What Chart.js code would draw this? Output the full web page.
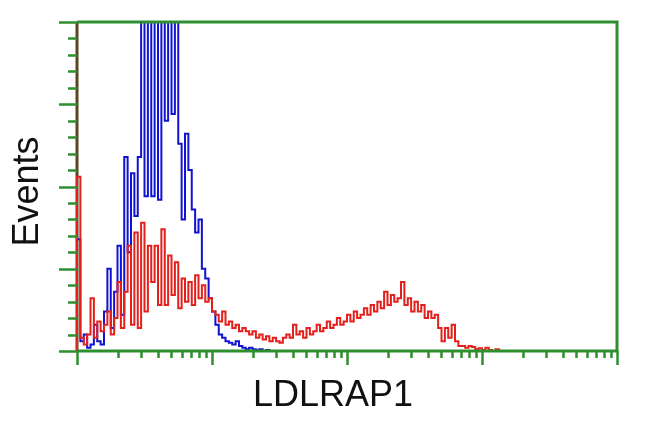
<!DOCTYPE html>
<html>
<head>
<meta charset="utf-8">
<script src="https://cdn.jsdelivr.net/npm/chart.js@4.4.1/dist/chart.umd.min.js"></script>
<style>
html,body{margin:0;padding:0;background:#ffffff;}
#wrap{width:650px;height:432px;}
</style>
</head>
<body>
<div id="wrap"><canvas id="c" width="650" height="432"></canvas></div>
<script>
// Log-amplified channels: 40 channels per decade, 4 decades (0..160)
const xTitle = "LDLRAP1";
const yTitle = "Events";
const yMajorTicks = [0, 25, 50, 75, 100];
const yMinorStep = 5;
const xDecadeTicks = [0, 40, 80, 120, 160];

// Isotype / control (blue)
const blueCounts = [
  0, 34, 3, 5, 1, 2, 8, 3, 2, 12,
  25, 7, 18, 32, 11, 59, 30, 54, 41, 59,
  105, 47, 110, 47, 110, 46, 110, 70, 110, 72,
  110, 63, 40, 66, 55, 43, 36, 40, 25, 22,
  16, 12, 8, 5, 4, 3, 2.5, 2, 3, 1.5,
  1, 0.5, 1, 0.5, 0.3, 0.5, 0, 0.3, 0
];

// LDLRAP1 stained (red)
const redCounts = [
  0, 53, 4, 2, 5, 16, 4, 9, 6, 8,
  12, 5, 10, 21, 7, 18, 32, 8, 36, 7,
  39, 12, 32, 21, 32, 14, 37, 14, 29, 17,
  27, 13, 22, 15, 21, 14, 23, 16, 20, 15,
  16, 12, 11, 9, 12, 8, 9, 7, 8, 6,
  7, 6, 5, 6, 4, 5, 3.5, 4.5, 3, 4,
  3, 2.5, 4, 5, 4, 8, 5, 6, 4, 7,
  5, 6, 8, 6, 7, 9, 7, 8, 10, 8,
  9, 11, 9, 12, 10, 11, 13, 11, 14, 12,
  15, 13, 18, 14, 17, 15, 16, 21, 14, 16,
  12, 15, 12, 14, 10, 12, 10, 11, 7, 3,
  7, 4, 8, 3, 1.5, 1.5, 1, 1.5, 1.2, 0.5,
  0.8, 0.3, 1, 0.3, 0, 0.5, 0
];

const channels = redCounts.map((_, i) => i);

const GREEN = '#2f8f2f';
const AXIS_LEFT = '#5a4524';
const BLUE = '#1212d2';
const RED = '#e3201c';
const FONT = 'Liberation Sans, Arial, Helvetica, sans-serif';

const frameTicks = {
  id: 'frameTicks',
  afterLayout(chart) {
    const sx = chart.scales.x, sy = chart.scales.y;
    if (!sx.__shifted) {
      const o = sx.drawTitle;
      sx.drawTitle = function () { this.ctx.save(); this.ctx.translate(-14, 0); o.call(this); this.ctx.restore(); };
      sx.__shifted = true;
    }
    if (!sy.__shifted) {
      const o2 = sy.drawTitle;
      sy.drawTitle = function () { this.ctx.save(); this.ctx.translate(1, 5); o2.call(this); this.ctx.restore(); };
      sy.__shifted = true;
    }
  },
  beforeDatasetsDraw(chart) {
    const {ctx, chartArea: a} = chart;
    ctx.save();
    ctx.strokeStyle = AXIS_LEFT;
    ctx.lineWidth = 3;
    ctx.beginPath();
    ctx.moveTo(a.left, a.top);
    ctx.lineTo(a.left, a.bottom);
    ctx.stroke();
    ctx.restore();
  },
  afterDatasetsDraw(chart) {
    const {ctx, chartArea: a, scales: {x, y}} = chart;
    ctx.save();
    ctx.strokeStyle = GREEN;
    ctx.lineWidth = 3;
    ctx.beginPath();
    ctx.moveTo(a.left, a.top);
    ctx.lineTo(a.right, a.top);
    ctx.lineTo(a.right, a.bottom);
    ctx.lineTo(a.left, a.bottom);
    ctx.stroke();
    // y ticks
    ctx.lineWidth = 2.5;
    const yMax = yMajorTicks[yMajorTicks.length - 1];
    for (let v = 0; v <= yMax; v += yMinorStep) {
      const py = Math.round(y.getPixelForValue(v)) + 0.5;
      const len = yMajorTicks.includes(v) ? 18 : 9;
      ctx.beginPath();
      ctx.moveTo(a.left - len, py);
      ctx.lineTo(a.left, py);
      ctx.stroke();
    }
    // x ticks (log decades)
    for (let d = 0; d < xDecadeTicks.length; d++) {
      const base = xDecadeTicks[d];
      const kmax = d === xDecadeTicks.length - 1 ? 1 : 9;
      for (let k = 1; k <= kmax; k++) {
        const c = base + 40 * Math.log10(k);
        const px = Math.round(x.getPixelForValue(c)) + 0.5;
        const len = k === 1 ? 14 : 7;
        ctx.beginPath();
        ctx.moveTo(px, a.bottom);
        ctx.lineTo(px, a.bottom + len);
        ctx.stroke();
      }
    }
    ctx.restore();
  }
};

const mk = (counts) => counts.map((v, i) => ({x: channels[i], y: v}));

new Chart(document.getElementById('c'), {
  type: 'line',
  data: {
    datasets: [
      {
        label: 'LDLRAP1',
        data: mk(redCounts),
        borderColor: RED,
        borderWidth: 2,
        pointRadius: 0,
        fill: false,
        stepped: 'after',
        order: 1,
        clip: {left: 3, top: 0, right: 0, bottom: 3}
      },
      {
        label: 'Control',
        data: mk(blueCounts),
        borderColor: BLUE,
        borderWidth: 2,
        pointRadius: 0,
        fill: false,
        stepped: 'after',
        order: 2,
        clip: {left: 3, top: 0, right: 0, bottom: 3}
      }
    ]
  },
  options: {
    responsive: false,
    animation: false,
    devicePixelRatio: 1,
    layout: {padding: {left: 9, right: 33, top: 22, bottom: 0}},
    plugins: {legend: {display: false}, tooltip: {enabled: false}},
    scales: {
      x: {
        type: 'linear',
        min: 0,
        max: 160,
        grid: {display: false, drawTicks: true, tickLength: 14},
        border: {display: false},
        ticks: {display: false},
        title: {
          display: true, text: xTitle, color: '#111111',
          font: {family: FONT, size: 36, lineHeight: 1},
          padding: {top: 13, bottom: 18}
        }
      },
      y: {
        type: 'linear',
        min: 0,
        max: 100,
        grid: {display: false, drawTicks: true, tickLength: 18},
        border: {display: false},
        ticks: {display: false, stepSize: 25},
        title: {
          display: true, text: yTitle, color: '#111111',
          font: {family: FONT, size: 36, lineHeight: 1},
          padding: {top: 0, bottom: 14}
        }
      }
    }
  },
  plugins: [frameTicks]
});
</script>
</body>
</html>
